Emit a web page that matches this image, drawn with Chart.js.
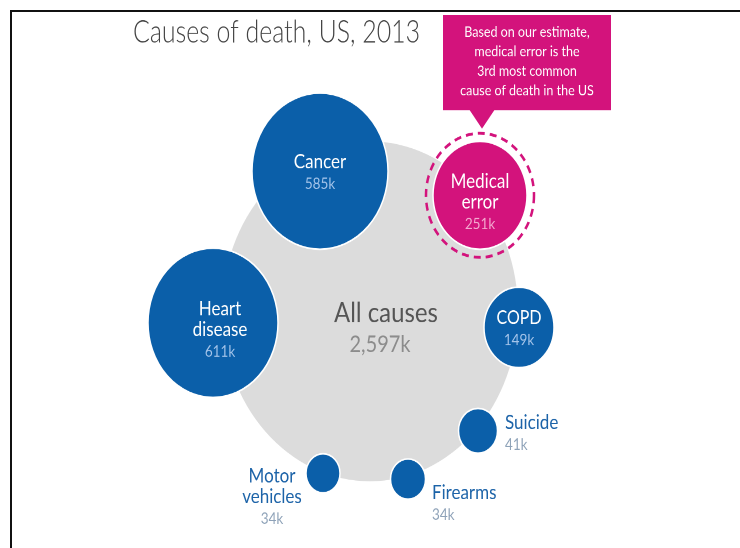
<!DOCTYPE html>
<html>
<head>
<meta charset="utf-8">
<script src="https://cdn.jsdelivr.net/npm/chart.js@4.4.1/dist/chart.umd.min.js"></script>
<style>
  html, body { margin: 0; padding: 0; background: #fff; overflow: hidden; }
  #frame {
    position: absolute; left: 10px; top: 10px; width: 740px; height: 548px;
    border-left: 2.5px solid #111; border-top: 2.5px solid #111;
  }
  /* the source picture is stretched vertically, so the chart is drawn flat and scaled */
  #wrap {
    position: absolute; left: 0; top: 0; width: 740px; height: 477px;
    transform: scaleY(1.1488); transform-origin: 0 0;
  }
</style>
</head>
<body>
<div id="wrap"><canvas id="deathChart"></canvas></div>
<div id="frame"></div>
<script>
// Data (deaths, thousands)
var causes = ['Heart disease', 'Cancer', 'Medical error', 'COPD', 'Suicide', 'Firearms', 'Motor vehicles'];
var deaths = [611, 585, 251, 149, 41, 34, 34];
var allCausesLabel = 'All causes';
var allCausesDeaths = 2597;
var titleText = 'Causes of death, US, 2013';
var calloutLines = ['Based on our estimate,', 'medical error is the', '3rd most common', 'cause of death in the US'];

// Layout: bubble centres and radii (chart units = px of the flat canvas)
var bubbleX = [213, 320, 480, 519, 478, 408, 323];
var bubbleY = [281, 149, 170, 285, 375, 417, 412];
var bubbleR = [65, 68, 47, 35, 19.5, 17.5, 17];
var allX = 370, allY = 271, allR = 148;
// label lines, and where they go: [dx, dy of first line, align, inside]
var labelLines = [['Heart', 'disease'], ['Cancer'], ['Medical', 'error'], ['COPD'], ['Suicide'], ['Firearms'], ['Motor', 'vehicles']];
var labelPos = [
  [7, -12, 'center', true],
  [0, -8, 'center', true],
  [0, -12, 'center', true],
  [0, -8, 'center', true],
  [27, -7, 'left', false],
  [24, 12, 'left', false],
  [-51, 2.5, 'center', false]
];

var BLUE = '#0b5fa9';
var PINK = '#d3137c';
var GREY = '#dcdcdc';
var FONT = 'Lato, "Open Sans", sans-serif';

function fmtK(v) {
  return v.toLocaleString('en-US') + 'k';
}

var labelPlugin = {
  id: 'bubbleLabels',
  afterDatasetsDraw: function(chart) {
    var ctx = chart.ctx;
    var pts = chart.getDatasetMeta(0).data;
    ctx.save();
    ctx.textBaseline = 'middle';

    // All causes text
    var all = chart.getDatasetMeta(1).data[0];
    ctx.textAlign = 'center';
    ctx.fillStyle = '#555';
    ctx.font = '24px ' + FONT;
    ctx.fillText(allCausesLabel, all.x + 16, all.y + 2);
    ctx.fillStyle = '#8c8c8c';
    ctx.font = '20px ' + FONT;
    ctx.fillText(fmtK(allCausesDeaths), all.x + 10, all.y + 29);

    // dashed ring round medical error
    var med = pts[causes.indexOf('Medical error')];
    ctx.beginPath();
    ctx.setLineDash([7, 5]);
    ctx.lineWidth = 2.5;
    ctx.strokeStyle = PINK;
    ctx.arc(med.x, med.y, bubbleR[2] + 7, 0, Math.PI * 2);
    ctx.stroke();
    ctx.setLineDash([]);

    // bubble labels
    pts.forEach(function(pt, i) {
      var p = labelPos[i];
      var inside = p[3];
      var x = pt.x + p[0];
      var y = pt.y + p[1];
      ctx.textAlign = p[2];
      ctx.fillStyle = inside ? '#ffffff' : '#1c63a8';
      ctx.font = (causes[i] === 'COPD' ? '16px ' : '17px ') + FONT;
      labelLines[i].forEach(function(line, j) {
        ctx.fillText(line, x, y + j * 18);
      });
      var vy = y + (labelLines[i].length - 1) * 18 + 19;
      if (inside) {
        ctx.fillStyle = causes[i] === 'Medical error' ? '#f4a9d0' : '#a4c4ea';
      } else {
        ctx.fillStyle = '#8ea2b8';
      }
      ctx.font = '13.5px ' + FONT;
      ctx.fillText(fmtK(deaths[i]), x, vy);
    });

    // callout above medical error
    var tipY = med.y - 58;
    var boxL = med.x - 37, boxR = med.x + 131, boxT = 13, boxB = tipY - 16;
    ctx.fillStyle = PINK;
    ctx.fillRect(boxL, boxT, boxR - boxL, boxB - boxT);
    ctx.beginPath();
    ctx.moveTo(med.x - 11, boxB - 1);
    ctx.lineTo(med.x + 15, boxB - 1);
    ctx.lineTo(med.x + 2, tipY);
    ctx.closePath();
    ctx.fill();
    ctx.fillStyle = '#ffffff';
    ctx.textAlign = 'center';
    ctx.font = '12.5px ' + FONT;
    calloutLines.forEach(function(line, j) {
      ctx.fillText(line, (boxL + boxR) / 2, 28 + j * 17);
    });

    // title (the source face is narrower than Lato, so squeeze it a bit)
    ctx.textAlign = 'left';
    ctx.fillStyle = '#444';
    ctx.font = '300 28px ' + FONT;
    ctx.translate(133, 28);
    ctx.scale(0.89, 1);
    ctx.fillText(titleText, 0, 0);
    ctx.restore();
  }
};

var causeData = causes.map(function(c, i) {
  return { x: bubbleX[i], y: bubbleY[i], r: bubbleR[i], v: deaths[i] };
});

new Chart(document.getElementById('deathChart').getContext('2d'), {
  type: 'bubble',
  data: {
    datasets: [{
      label: 'Causes',
      data: causeData,
      backgroundColor: causes.map(function(c) { return c === 'Medical error' ? PINK : BLUE; }),
      borderColor: '#ffffff',
      borderWidth: 1.5,
      hoverRadius: 0,
      clip: false
    }, {
      label: allCausesLabel,
      data: [{ x: allX, y: allY, r: allR, v: allCausesDeaths }],
      backgroundColor: GREY,
      borderWidth: 0,
      hoverRadius: 0,
      clip: false
    }]
  },
  options: {
    responsive: true,
    maintainAspectRatio: false,
    animation: false,
    devicePixelRatio: 2,
    events: [],
    layout: { padding: 0, autoPadding: false },
    plugins: {
      legend: { display: false },
      tooltip: { enabled: false }
    },
    scales: {
      x: { type: 'linear', min: 0, max: 740, display: false },
      y: { type: 'linear', min: 0, max: 477, reverse: true, display: false }
    }
  },
  plugins: [labelPlugin]
});
</script>
</body>
</html>
